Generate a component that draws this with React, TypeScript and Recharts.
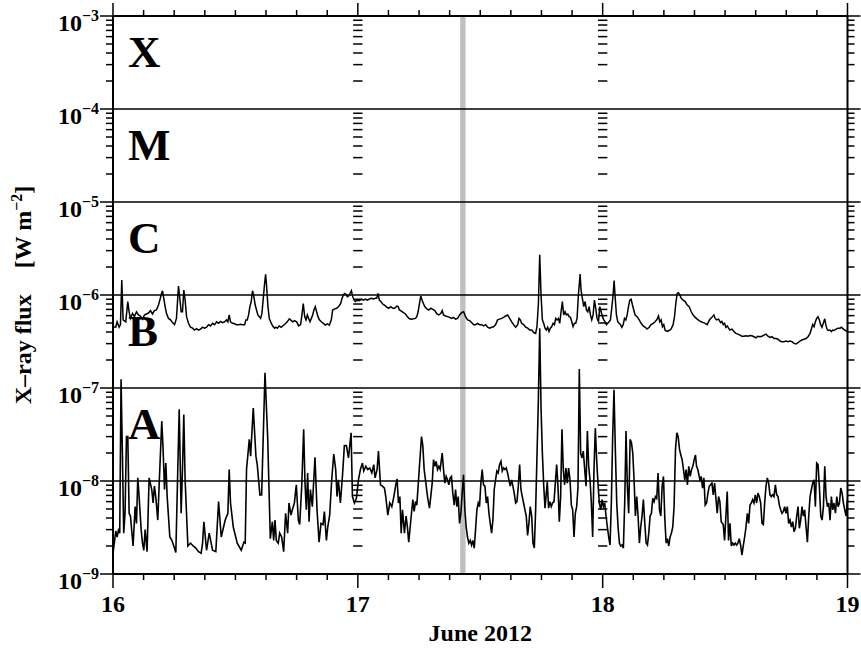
import React from "react";
import { LineChart, Line, XAxis, YAxis, ReferenceLine, ReferenceArea } from "recharts";

// GOES X-ray flux, 16-19 June 2012. x = hours since 16 June 00:00 UT, y = W m^-2

const hourTicks = [0, 3, 6, 9, 12, 15, 18, 21, 24, 27, 30, 33, 36, 39, 42, 45, 48, 51, 54, 57, 60, 63, 66, 69, 72];
const dayLabels = ["16", "17", "18", "19"];
const dayBoundaries = [24, 48];
const decades = [1e-9, 1e-8, 1e-7, 1e-6, 1e-5, 1e-4, 1e-3];
const minorSteps = [2, 3, 4, 5, 6, 7, 8, 9];
const flareClasses = [
  { name: "X", floor: 1e-4 },
  { name: "M", floor: 1e-5 },
  { name: "C", floor: 1e-6 },
  { name: "B", floor: 1e-7 },
  { name: "A", floor: 1e-8 },
];
const eventWindow = [34.03, 34.56];

// long channel (1-8 A)
const longDay16: [number, number][] = [
  [0.0, 4.56e-7], [0.27, 4.5e-7], [0.4, 5.15e-7], [0.6, 4.5e-7], [0.73, 4.8e-7], [0.86, 1.45e-6], [0.99, 5.4e-7],
  [1.25, 5.15e-7], [1.45, 8.5e-7], [1.58, 6.6e-7], [1.71, 5.6e-7], [1.91, 6.35e-7], [2.1, 5.85e-7], [2.3, 6.6e-7],
  [2.49, 6.1e-7], [2.69, 5.95e-7], [2.89, 5.5e-7], [3.08, 6.1e-7], [3.28, 6.25e-7], [3.48, 6.4e-7], [3.67, 6.8e-7],
  [3.87, 6.25e-7], [4.06, 6.8e-7], [4.26, 6.9e-7], [4.46, 7.8e-7], [4.59, 8.8e-7], [4.72, 1.0e-6], [4.85, 1.11e-6],
  [4.98, 9.2e-7], [5.11, 7.5e-7], [5.24, 6.35e-7], [5.44, 5.6e-7], [5.64, 5.4e-7], [5.83, 5.05e-7], [6.03, 4.8e-7],
  [6.22, 5.6e-7], [6.42, 1.25e-6], [6.55, 9.2e-7], [6.68, 6.6e-7], [6.81, 6.6e-7], [6.94, 1.13e-6], [7.07, 8.8e-7],
  [7.21, 5.85e-7], [7.4, 4.96e-7], [7.6, 4.5e-7], [7.8, 4.4e-7], [7.99, 4.2e-7], [8.19, 4.35e-7], [8.38, 4.2e-7],
  [8.58, 4.3e-7], [8.78, 4.5e-7], [8.97, 4.4e-7], [9.17, 4.5e-7], [9.37, 4.8e-7], [9.56, 4.65e-7], [9.76, 4.96e-7],
  [9.96, 4.8e-7], [10.15, 5.15e-7], [10.35, 4.96e-7], [10.54, 5.2e-7], [10.74, 5.05e-7], [10.94, 5.15e-7],
  [11.13, 5.4e-7], [11.26, 5.15e-7], [11.39, 6.1e-7], [11.52, 5.15e-7], [11.72, 4.96e-7], [11.91, 4.9e-7],
  [12.11, 4.8e-7], [12.31, 4.8e-7], [12.5, 4.85e-7], [12.7, 4.8e-7], [12.9, 4.8e-7], [13.03, 5.4e-7], [13.16, 5.4e-7],
  [13.29, 6.1e-7], [13.42, 7.5e-7], [13.55, 8.5e-7], [13.68, 1.11e-6], [13.81, 9.6e-7], [13.94, 7.8e-7],
  [14.07, 6.9e-7], [14.2, 6.1e-7], [14.34, 5.85e-7], [14.47, 5.6e-7], [14.6, 6.35e-7], [14.73, 9.2e-7],
  [14.86, 1.33e-6], [14.96, 1.67e-6], [15.06, 1.23e-6], [15.19, 7.5e-7], [15.32, 5.6e-7], [15.45, 5.15e-7],
  [15.58, 4.8e-7], [15.71, 4.56e-7], [15.84, 4.4e-7], [15.97, 4.5e-7], [16.1, 4.4e-7], [16.3, 4.65e-7],
  [16.49, 4.5e-7], [16.69, 4.7e-7], [16.89, 4.9e-7], [17.08, 5.15e-7], [17.28, 5.55e-7], [17.41, 5.4e-7],
  [17.61, 5.15e-7], [17.8, 5.3e-7], [18.0, 5.15e-7], [18.2, 4.65e-7], [18.39, 4.8e-7], [18.52, 6.1e-7],
  [18.65, 8.1e-7], [18.79, 5.85e-7], [18.92, 5.4e-7], [19.05, 6.1e-7], [19.18, 5.6e-7], [19.31, 5.15e-7],
  [19.44, 5.6e-7], [19.57, 6.1e-7], [19.7, 6.9e-7], [19.83, 7.5e-7], [19.96, 6.6e-7], [20.09, 5.85e-7],
  [20.23, 5.4e-7], [20.42, 5.15e-7], [20.62, 4.96e-7], [20.81, 4.75e-7], [21.01, 4.9e-7], [21.21, 4.75e-7],
  [21.4, 5.4e-7], [21.53, 6.9e-7], [21.73, 7.1e-7], [21.93, 7.2e-7], [22.12, 7.5e-7], [22.32, 8.1e-7],
  [22.45, 9.2e-7], [22.58, 1.0e-6], [22.71, 1.04e-6], [22.84, 1.02e-6], [22.97, 9.6e-7], [23.1, 9.75e-7],
  [23.24, 1.04e-6], [23.37, 1.11e-6], [23.5, 9.6e-7], [23.63, 8.8e-7], [23.76, 8.5e-7], [23.96, 8.8e-7],
];
const longDay17: [number, number][] = [
  [24.15, 8.7e-7], [24.35, 9.0e-7], [24.54, 8.8e-7], [24.74, 9.05e-7], [24.94, 8.8e-7], [25.13, 9.05e-7],
  [25.33, 9.2e-7], [25.53, 9.05e-7], [25.72, 9.2e-7], [25.85, 9.2e-7], [25.98, 1.04e-6], [26.11, 8.8e-7],
  [26.25, 8.5e-7], [26.44, 8.0e-7], [26.64, 7.75e-7], [26.83, 7.4e-7], [27.03, 7.2e-7], [27.23, 7.5e-7],
  [27.42, 7.2e-7], [27.62, 7.2e-7], [27.82, 7.6e-7], [27.95, 7.5e-7], [28.08, 6.9e-7], [28.27, 6.7e-7],
  [28.47, 6.45e-7], [28.67, 6.25e-7], [28.86, 5.85e-7], [29.06, 5.55e-7], [29.26, 5.5e-7], [29.45, 5.55e-7],
  [29.65, 5.6e-7], [29.78, 5.85e-7], [29.91, 6.6e-7], [30.04, 8.1e-7], [30.17, 9.75e-7], [30.3, 8.8e-7],
  [30.43, 8.1e-7], [30.56, 7.5e-7], [30.76, 7.1e-7], [30.96, 6.9e-7], [31.15, 7.2e-7], [31.35, 7.0e-7],
  [31.55, 6.8e-7], [31.75, 6.25e-7], [31.95, 6.1e-7], [32.14, 6.35e-7], [32.27, 6.8e-7], [32.4, 6.1e-7],
  [32.6, 5.95e-7], [32.8, 5.85e-7], [32.99, 5.75e-7], [33.19, 5.6e-7], [33.38, 5.75e-7], [33.58, 5.5e-7],
  [33.78, 5.6e-7], [33.97, 6.1e-7], [34.17, 6.45e-7], [34.37, 6.6e-7], [34.56, 5.85e-7], [34.76, 5.4e-7],
  [34.96, 5.3e-7], [35.15, 5.05e-7], [35.35, 4.8e-7], [35.54, 4.8e-7], [35.74, 4.96e-7], [35.94, 4.8e-7],
  [36.13, 4.8e-7], [36.33, 4.65e-7], [36.53, 4.8e-7], [36.72, 4.5e-7], [36.92, 4.4e-7], [37.12, 4.5e-7],
  [37.31, 4.56e-7], [37.51, 4.8e-7], [37.7, 5.4e-7], [37.9, 5.5e-7], [38.1, 5.6e-7], [38.29, 5.75e-7],
  [38.49, 5.95e-7], [38.69, 6.1e-7], [38.88, 5.6e-7], [39.08, 5.15e-7], [39.27, 4.8e-7], [39.47, 4.5e-7],
  [39.67, 4.8e-7], [39.8, 5.6e-7], [39.93, 5.4e-7], [40.06, 4.96e-7], [40.26, 4.8e-7], [40.45, 4.5e-7],
  [40.65, 4.4e-7], [40.85, 4.2e-7], [41.04, 4.2e-7], [41.24, 3.95e-7], [41.43, 3.87e-7], [41.56, 4.56e-7],
  [41.7, 8.1e-7], [41.83, 2.7e-6], [41.96, 1.0e-6], [42.09, 5.4e-7], [42.22, 4.96e-7], [42.35, 4.4e-7],
  [42.48, 4.2e-7], [42.61, 4.5e-7], [42.74, 4.05e-7], [42.87, 4.4e-7], [43.0, 4.56e-7], [43.14, 4.96e-7],
  [43.27, 4.8e-7], [43.4, 5.6e-7], [43.53, 5.4e-7], [43.66, 5.6e-7], [43.79, 4.96e-7], [43.92, 6.6e-7],
  [44.05, 8.5e-7], [44.18, 6.1e-7], [44.31, 6.6e-7], [44.44, 6.1e-7], [44.58, 6.25e-7], [44.71, 5.85e-7],
  [44.84, 5.75e-7], [44.97, 5.15e-7], [45.1, 4.56e-7], [45.23, 4.96e-7], [45.36, 4.96e-7], [45.49, 5.6e-7],
  [45.62, 1.0e-6], [45.79, 1.68e-6], [45.88, 1.13e-6], [46.01, 9.2e-7], [46.15, 7.5e-7], [46.28, 8.5e-7],
  [46.41, 6.9e-7], [46.54, 6.6e-7], [46.67, 7.5e-7], [46.8, 6.1e-7], [46.93, 5.4e-7], [47.06, 6.1e-7],
  [47.19, 8.8e-7], [47.32, 7.2e-7], [47.45, 5.6e-7], [47.59, 5.15e-7], [47.72, 7.5e-7], [47.85, 6.6e-7],
  [47.98, 5.85e-7],
];
const longDay18: [number, number][] = [
  [48.11, 5.4e-7], [48.24, 5.15e-7], [48.37, 4.8e-7], [48.5, 4.96e-7], [48.63, 5.15e-7], [48.76, 5.4e-7],
  [48.89, 7.2e-7], [49.02, 1.0e-6], [49.12, 1.43e-6], [49.22, 9.6e-7], [49.35, 6.1e-7], [49.48, 5.15e-7],
  [49.61, 4.96e-7], [49.75, 4.8e-7], [49.88, 4.5e-7], [50.01, 4.8e-7], [50.14, 5.6e-7], [50.27, 5.4e-7],
  [50.4, 6.1e-7], [50.53, 7.5e-7], [50.66, 8.8e-7], [50.79, 9.0e-7], [50.92, 7.8e-7], [51.05, 6.9e-7],
  [51.18, 6.1e-7], [51.38, 5.85e-7], [51.58, 5.4e-7], [51.77, 4.96e-7], [51.97, 4.65e-7], [52.17, 4.5e-7],
  [52.36, 4.3e-7], [52.56, 4.5e-7], [52.75, 4.8e-7], [52.95, 4.96e-7], [53.14, 5.15e-7], [53.34, 5.5e-7],
  [53.47, 5.95e-7], [53.6, 5.15e-7], [53.73, 5.4e-7], [53.86, 4.56e-7], [53.99, 4.8e-7], [54.13, 4.15e-7],
  [54.32, 4.05e-7], [54.52, 4.15e-7], [54.71, 4.3e-7], [54.91, 4.8e-7], [55.04, 5.85e-7], [55.17, 8.1e-7],
  [55.3, 1.04e-6], [55.43, 1.06e-6], [55.57, 1.0e-6], [55.7, 9.2e-7], [55.89, 8.8e-7], [56.09, 8.5e-7],
  [56.29, 7.8e-7], [56.48, 7.5e-7], [56.68, 6.6e-7], [56.87, 6.1e-7], [57.07, 5.75e-7], [57.27, 5.5e-7],
  [57.46, 5.3e-7], [57.66, 5.15e-7], [57.86, 5.05e-7], [58.05, 4.96e-7], [58.25, 4.8e-7], [58.38, 5.15e-7],
  [58.51, 5.5e-7], [58.71, 5.75e-7], [58.9, 6.1e-7], [59.03, 5.6e-7], [59.16, 5.4e-7], [59.36, 5.5e-7],
  [59.56, 5.05e-7], [59.69, 5.2e-7], [59.82, 4.8e-7], [59.95, 4.96e-7], [60.08, 4.5e-7], [60.21, 4.65e-7],
  [60.34, 4.4e-7], [60.47, 4.2e-7], [60.67, 4.3e-7], [60.87, 4.05e-7], [61.06, 3.87e-7], [61.26, 3.8e-7],
  [61.46, 3.7e-7], [61.65, 3.6e-7], [61.85, 3.6e-7], [62.04, 3.65e-7], [62.24, 3.6e-7], [62.44, 3.67e-7],
  [62.63, 3.65e-7], [62.83, 3.56e-7], [63.03, 3.47e-7], [63.22, 3.6e-7], [63.42, 3.56e-7], [63.61, 3.6e-7],
  [63.81, 3.7e-7], [64.01, 3.8e-7], [64.2, 3.6e-7], [64.4, 3.5e-7], [64.6, 3.56e-7], [64.79, 3.4e-7],
  [64.99, 3.4e-7], [65.19, 3.35e-7], [65.38, 3.2e-7], [65.58, 3.15e-7], [65.77, 3.15e-7], [65.97, 3.2e-7],
  [66.17, 3.15e-7], [66.36, 3.2e-7], [66.56, 3.15e-7], [66.76, 3.02e-7], [66.95, 2.97e-7], [67.15, 3.07e-7],
  [67.34, 3.2e-7], [67.54, 3.28e-7], [67.74, 3.35e-7], [67.93, 3.4e-7], [68.13, 3.56e-7], [68.33, 3.87e-7],
  [68.46, 4.3e-7], [68.59, 4.8e-7], [68.72, 4.56e-7], [68.85, 5.15e-7], [68.98, 5.6e-7], [69.11, 5.85e-7],
  [69.24, 5.4e-7], [69.37, 4.8e-7], [69.5, 4.5e-7], [69.63, 4.96e-7], [69.77, 5.55e-7], [69.9, 4.65e-7],
  [70.03, 4.2e-7], [70.16, 4.15e-7], [70.29, 4.2e-7], [70.42, 4.05e-7], [70.55, 4.2e-7], [70.68, 4.15e-7],
  [70.88, 4.3e-7], [71.07, 4.4e-7], [71.27, 4.4e-7], [71.4, 4.5e-7], [71.6, 4.3e-7], [71.8, 4.15e-7], [72.0, 4.05e-7],
];

// short channel (0.5-4 A)
const shortDay16: [number, number][] = [
  [0.0, 1.67e-9], [0.14, 2.2e-9], [0.27, 2.9e-9], [0.4, 2.5e-9], [0.53, 2.95e-9], [0.66, 2.75e-9], [0.79, 1.24e-7],
  [0.92, 2.0e-8], [1.05, 2.75e-9], [1.18, 4.5e-9], [1.32, 3.0e-8], [1.45, 3.0e-8], [1.58, 4.5e-9], [1.71, 4.2e-9],
  [1.97, 2.0e-9], [2.17, 5.3e-9], [2.3, 3.5e-9], [2.43, 1.08e-8], [2.56, 6.8e-9], [2.76, 3.0e-9], [2.89, 2.15e-9],
  [3.02, 1.8e-9], [3.15, 3.0e-9], [3.34, 1.74e-9], [3.54, 1.08e-8], [3.8, 8.1e-9], [3.93, 5.8e-9], [4.06, 8.8e-9],
  [4.19, 6.8e-9], [4.39, 3.8e-9], [4.52, 8.8e-9], [4.78, 4.4e-8], [4.91, 2.2e-8], [5.05, 8.1e-9], [5.18, 1.56e-8],
  [5.31, 6.8e-9], [5.57, 2.5e-9], [5.77, 2.3e-9], [5.96, 2.0e-9], [6.16, 1.7e-9], [6.35, 1.33e-8], [6.49, 5.9e-8],
  [6.68, 4.5e-9], [6.81, 1.33e-8], [6.94, 5.2e-8], [7.07, 1.03e-8], [7.34, 2.0e-9], [7.6, 2.15e-9], [7.86, 2.0e-9],
  [8.12, 1.9e-9], [8.38, 1.74e-9], [8.64, 1.67e-9], [8.78, 2.15e-9], [8.91, 3.65e-9], [9.17, 1.8e-9], [9.43, 2.75e-9],
  [9.76, 1.8e-9], [10.08, 1.74e-9], [10.35, 6.0e-9], [10.61, 2.5e-9], [11.0, 3.8e-9], [11.26, 4.5e-9],
  [11.39, 1.33e-8], [11.52, 5.8e-9], [11.79, 3.2e-9], [12.18, 2.15e-9], [12.57, 1.8e-9], [12.83, 2.2e-9],
  [12.96, 2.15e-9], [13.09, 1.33e-8], [13.36, 2.8e-8], [13.49, 1.85e-8], [13.75, 6.1e-8], [14.01, 1.85e-8],
  [14.14, 1.5e-8], [14.4, 7.1e-9], [14.57, 7.1e-9], [14.9, 1.46e-7], [15.16, 3.0e-8], [15.42, 2.4e-9],
  [15.62, 3.65e-9], [15.75, 2.3e-9], [15.88, 3.8e-9], [16.01, 2.3e-9], [16.2, 2.15e-9], [16.34, 2.75e-9],
  [16.53, 2.5e-9], [16.73, 1.74e-9], [16.92, 4.5e-9], [17.12, 2.75e-9], [17.25, 5.8e-9], [17.45, 4.3e-9],
  [17.58, 4.9e-9], [17.78, 5.8e-9], [17.97, 9.1e-9], [18.17, 3.8e-9], [18.3, 3.4e-9], [18.5, 8.8e-9],
  [18.69, 3.6e-8], [18.82, 9.5e-9], [18.95, 4.9e-9], [19.08, 1.22e-8], [19.22, 3.65e-9], [19.35, 8.1e-9],
  [19.54, 5.3e-9], [19.8, 1.8e-8], [20.0, 4.9e-9], [20.2, 2.2e-9], [20.39, 3.5e-9], [20.59, 3.4e-9],
  [20.72, 4.7e-9], [20.92, 2.3e-9], [21.05, 3.2e-9], [21.24, 4.3e-9], [21.44, 1.03e-8], [21.64, 1.95e-8],
  [21.83, 1.33e-8], [21.96, 6.8e-9], [22.09, 1.03e-8], [22.29, 5.8e-9], [22.49, 1.12e-8], [22.68, 2.4e-8],
  [22.88, 2.4e-8], [23.08, 1.77e-8], [23.34, 3.3e-8], [23.47, 6.8e-9], [23.67, 5.8e-9], [23.86, 6.5e-9],
];
const shortDay17: [number, number][] = [
  [24.06, 1.03e-8], [24.25, 1.33e-8], [24.45, 1.56e-8], [24.58, 1.28e-8], [24.78, 1.44e-8], [24.97, 1.33e-8],
  [25.17, 1.38e-8], [25.37, 1.22e-8], [25.56, 1.5e-8], [25.69, 1.08e-8], [25.89, 1.33e-8], [26.02, 2.1e-8],
  [26.22, 9.1e-9], [26.41, 8.8e-9], [26.61, 8.4e-9], [26.74, 6.8e-9], [26.94, 4.3e-9], [27.13, 5.8e-9],
  [27.33, 5.3e-9], [27.53, 6.8e-9], [27.72, 9.1e-9], [27.85, 1.05e-8], [27.98, 5.8e-9], [28.12, 6.8e-9],
  [28.25, 2.75e-9], [28.38, 4.9e-9], [28.57, 2.75e-9], [28.73, 4.2e-9], [28.86, 3.2e-9], [28.99, 2.2e-9],
  [29.13, 3.2e-9], [29.26, 4.5e-9], [29.39, 6.3e-9], [29.52, 4.7e-9], [29.65, 6.0e-9], [29.78, 5.5e-9],
  [29.91, 8.8e-9], [30.04, 1.44e-8], [30.24, 3.0e-8], [30.37, 2.4e-8], [30.5, 1.33e-8], [30.63, 1.03e-8],
  [30.83, 6.8e-9], [31.02, 5.1e-9], [31.15, 6.8e-9], [31.29, 9.5e-9], [31.42, 1.7e-8], [31.55, 1.44e-8],
  [31.68, 1.63e-8], [31.81, 1.33e-8], [31.94, 1.44e-8], [32.07, 1.33e-8], [32.27, 2.0e-8], [32.4, 1.33e-8],
  [32.53, 9.5e-9], [32.66, 1.12e-8], [32.79, 1.03e-8], [32.92, 9.1e-9], [33.05, 1.08e-8], [33.18, 1.12e-8],
  [33.31, 7.4e-9], [33.45, 5.5e-9], [33.58, 8.1e-9], [33.71, 5.3e-9], [33.84, 6.8e-9], [33.97, 3.5e-9],
  [34.1, 4.5e-9], [34.23, 7.4e-9], [34.36, 1.17e-8], [34.49, 4.9e-9], [34.62, 3.2e-9], [34.75, 2.5e-9],
  [34.88, 2.15e-9], [35.02, 2.3e-9], [35.15, 2.05e-9], [35.28, 2.3e-9], [35.41, 1.9e-9], [35.54, 3.0e-9],
  [35.67, 4.9e-9], [35.8, 5.8e-9], [35.93, 5.3e-9], [36.06, 9.5e-9], [36.19, 1.33e-8], [36.32, 9.1e-9],
  [36.46, 8.8e-9], [36.59, 5.8e-9], [36.72, 6.8e-9], [36.85, 4.5e-9], [36.98, 3.5e-9], [37.11, 2.75e-9],
  [37.24, 3.8e-9], [37.37, 8.1e-9], [37.5, 1.03e-8], [37.63, 1.28e-8], [37.76, 1.22e-8], [37.89, 1.5e-8],
  [38.03, 1.63e-8], [38.16, 1.28e-8], [38.29, 1.38e-8], [38.42, 1.33e-8], [38.55, 1.38e-8], [38.68, 1.22e-8],
  [38.81, 1.03e-8], [38.94, 8.8e-9], [39.07, 1.03e-8], [39.2, 8.8e-9], [39.33, 7.4e-9], [39.47, 5.8e-9],
  [39.6, 6.0e-9], [39.73, 8.8e-9], [39.86, 1.5e-8], [39.99, 8.1e-9], [40.12, 6.8e-9], [40.25, 5.8e-9],
  [40.38, 4.9e-9], [40.51, 4.2e-9], [40.64, 2.6e-9], [40.77, 3.5e-9], [40.9, 5.3e-9], [41.04, 4.2e-9],
  [41.17, 2.15e-9], [41.3, 1.9e-9], [41.43, 4.9e-9], [41.56, 1.85e-8], [41.69, 6.9e-8], [41.83, 4.4e-7],
  [41.96, 6.0e-8], [42.09, 2.0e-8], [42.22, 9.0e-9], [42.35, 5.1e-9], [42.57, 9.8e-9], [42.7, 5.1e-9],
  [42.83, 6.0e-9], [42.96, 5.3e-9], [43.09, 5.8e-9], [43.23, 6.0e-9], [43.36, 9.5e-9], [43.49, 1.5e-8],
  [43.62, 8.8e-9], [43.75, 3.65e-9], [43.88, 6.8e-9], [44.01, 3.6e-8], [44.14, 1.33e-8], [44.27, 9.1e-9],
  [44.4, 1.38e-8], [44.53, 9.5e-9], [44.66, 1.38e-8], [44.8, 1.03e-8], [44.93, 5.5e-9], [45.06, 4.9e-9],
  [45.19, 2.5e-9], [45.32, 4.5e-9], [45.45, 5.3e-9], [45.58, 8.5e-9], [45.71, 1.6e-7], [45.84, 2.0e-8],
  [45.97, 1.77e-8], [46.1, 2.1e-8], [46.24, 1.33e-8], [46.37, 8.8e-9], [46.5, 3.45e-8], [46.63, 1.44e-8],
  [46.76, 1.03e-8], [46.89, 5.8e-9], [47.02, 2.5e-9], [47.15, 1.33e-8], [47.28, 3.7e-8], [47.41, 1.7e-8],
  [47.54, 9.5e-9], [47.67, 5.8e-9], [47.81, 4.9e-9], [47.94, 6.3e-9],
];
const shortDay18: [number, number][] = [
  [48.07, 5.3e-9], [48.2, 5.8e-9], [48.33, 4.2e-9], [48.46, 3.2e-9], [48.59, 2.5e-9], [48.72, 2.05e-9],
  [48.85, 5.8e-9], [48.98, 3.0e-8], [49.11, 9.6e-8], [49.25, 2.0e-8], [49.38, 5.8e-9], [49.51, 3.2e-9],
  [49.64, 2.15e-9], [49.77, 2.0e-9], [49.9, 2.05e-9], [50.03, 1.9e-9], [50.16, 5.8e-9], [50.29, 3.45e-8],
  [50.42, 8.8e-9], [50.55, 4.5e-9], [50.69, 2.8e-8], [50.82, 2.6e-8], [50.95, 2.0e-8], [51.08, 1.03e-8],
  [51.21, 4.2e-9], [51.34, 6.8e-9], [51.47, 4.2e-9], [51.6, 2.15e-9], [51.73, 3.2e-9], [51.86, 4.2e-9],
  [51.99, 6.3e-9], [52.13, 3.5e-9], [52.26, 2.15e-9], [52.39, 2.05e-9], [52.52, 2.75e-9], [52.65, 4.2e-9],
  [52.78, 4.5e-9], [52.91, 6.5e-9], [53.04, 6.0e-9], [53.17, 6.8e-9], [53.3, 6.5e-9], [53.43, 1.22e-8],
  [53.57, 4.9e-9], [53.7, 4.2e-9], [53.83, 8.8e-9], [53.96, 1.12e-8], [54.09, 4.0e-9], [54.22, 2.15e-9],
  [54.35, 2.4e-9], [54.48, 2.0e-9], [54.61, 2.5e-9], [54.74, 2.75e-9], [54.87, 3.2e-9], [55.0, 5.3e-9],
  [55.14, 2.2e-8], [55.27, 3.3e-8], [55.4, 3.0e-8], [55.53, 2.2e-8], [55.66, 1.9e-8], [55.79, 1.7e-8],
  [55.92, 1.33e-8], [56.05, 1.03e-8], [56.18, 1.33e-8], [56.31, 9.1e-9], [56.44, 1.44e-8], [56.58, 1.12e-8],
  [56.71, 1.33e-8], [56.84, 1.44e-8], [56.97, 1.7e-8], [57.1, 1.9e-8], [57.2, 1.44e-8], [57.33, 1.33e-8],
  [57.53, 1.03e-8], [57.66, 1.12e-8], [57.79, 8.4e-9], [57.92, 1.08e-8], [58.05, 5.5e-9], [58.19, 5.8e-9],
  [58.32, 7.4e-9], [58.45, 8.8e-9], [58.58, 9.1e-9], [58.71, 9.5e-9], [58.84, 7.1e-9], [58.97, 9.5e-9],
  [59.1, 6.5e-9], [59.23, 4.5e-9], [59.36, 6.8e-9], [59.49, 6.0e-9], [59.62, 3.65e-9], [59.82, 3.4e-9],
  [59.95, 2.3e-9], [60.08, 4.2e-9], [60.21, 7.7e-9], [60.34, 2.3e-9], [60.48, 3.5e-9], [60.61, 2.0e-9],
  [60.74, 2.15e-9], [60.87, 2.05e-9], [61.0, 2.15e-9], [61.13, 2.05e-9], [61.26, 2.15e-9], [61.39, 2.4e-9],
  [61.52, 2.05e-9], [61.65, 1.6e-9], [61.78, 2.0e-9], [61.92, 2.5e-9], [62.05, 3.2e-9], [62.18, 4.5e-9],
  [62.31, 3.5e-9], [62.44, 5.5e-9], [62.57, 5.8e-9], [62.7, 6.3e-9], [62.83, 5.8e-9], [62.96, 7.1e-9],
  [63.09, 5.8e-9], [63.22, 7.4e-9], [63.35, 6.8e-9], [63.49, 5.8e-9], [63.62, 3.5e-9], [63.75, 3.4e-9],
  [63.88, 5.8e-9], [64.01, 8.8e-9], [64.14, 1.08e-8], [64.27, 9.5e-9], [64.4, 7.1e-9], [64.53, 6.8e-9],
  [64.66, 7.1e-9], [64.79, 6.8e-9], [64.93, 9.1e-9], [65.06, 7.1e-9], [65.19, 6.8e-9], [65.32, 5.5e-9],
  [65.45, 4.9e-9], [65.58, 4.5e-9], [65.71, 4.7e-9], [65.84, 5.3e-9], [65.97, 4.5e-9], [66.1, 5.3e-9],
  [66.23, 3.5e-9], [66.36, 3.8e-9], [66.5, 3.2e-9], [66.63, 3.65e-9], [66.76, 2.85e-9], [66.89, 3.1e-9],
  [67.02, 4.2e-9], [67.15, 5.3e-9], [67.28, 3.1e-9], [67.41, 3.8e-9], [67.54, 5.3e-9], [67.67, 4.2e-9],
  [67.8, 4.9e-9], [67.94, 3.2e-9], [68.07, 2.2e-9], [68.2, 4.2e-9], [68.33, 6.8e-9], [68.46, 8.1e-9],
  [68.59, 9.5e-9], [68.72, 1.03e-8], [68.85, 5.3e-9], [68.98, 1.56e-8], [69.11, 1.5e-8], [69.24, 8.8e-9],
  [69.38, 4.2e-9], [69.51, 3.8e-9], [69.64, 5.3e-9], [69.77, 1.44e-8], [69.9, 6.8e-9], [70.03, 5.3e-9],
  [70.16, 5.8e-9], [70.29, 3.8e-9], [70.42, 6.8e-9], [70.55, 4.9e-9], [70.68, 5.8e-9], [70.82, 4.5e-9],
  [70.95, 6.8e-9], [71.08, 5.3e-9], [71.21, 5.8e-9], [71.34, 8.4e-9], [71.47, 7.4e-9], [71.6, 5.8e-9],
  [71.73, 4.9e-9], [71.86, 4.2e-9], [71.99, 6.3e-9],
];

const toRows = (pts: [number, number][]) => pts.map(([h, f]) => ({ h, f }));
const longData = toRows([...longDay16, ...longDay17, ...longDay18]);
const shortData = toRows([...shortDay16, ...shortDay17, ...shortDay18]);

const minorTicks = decades.slice(0, -1).flatMap((d) => minorSteps.map((m) => m * d));
const yTicks = [...decades, ...minorTicks].sort((a, b) => a - b);
const isDecade = (v: number) => decades.some((d) => Math.abs(v / d - 1) < 1e-6);

const serif = '"Liberation Serif", "Times New Roman", serif';
const ink = "#000";
const labelStyle: React.CSSProperties = { fontFamily: serif, fontWeight: "bold", fontSize: 24, fill: ink };

function LeftTick(props: any) {
  const { x, y, payload } = props;
  const v = payload.value;
  const major = isDecade(v);
  const exp = Math.round(Math.log10(v));
  return (
    <g>
      <line x1={x} y1={y} x2={x - (major ? 13 : 7)} y2={y} stroke={ink} strokeWidth={1.5} />
      {major && (
        <text x={x - 14} y={y + 15} textAnchor="end" fill={ink} style={labelStyle}>
          10
          <tspan dy={-10} fontSize={16}>{`\u2212${-exp}`}</tspan>
        </text>
      )}
    </g>
  );
}

function RightTick(props: any) {
  const { x, y, payload } = props;
  const major = isDecade(payload.value);
  return <line x1={x} y1={y} x2={x + (major ? 13 : 7)} y2={y} stroke={ink} strokeWidth={1.5} />;
}

function BottomTick(props: any) {
  const { x, y, payload } = props;
  const h = payload.value;
  const major = h % 24 === 0;
  return (
    <g>
      <line x1={x} y1={y} x2={x} y2={y + (major ? 14 : 6)} stroke={ink} strokeWidth={1.5} />
      {major && (
        <text x={x} y={y + 38} textAnchor="middle" fill={ink} style={labelStyle}>
          {dayLabels[h / 24]}
        </text>
      )}
    </g>
  );
}

function TopTick(props: any) {
  const { x, y, payload } = props;
  const major = payload.value % 24 === 0;
  return <line x1={x} y1={y} x2={x} y2={y - (major ? 13 : 6)} stroke={ink} strokeWidth={1.5} />;
}

function YTitle(props: any) {
  const vb = props.viewBox && props.viewBox.height ? props.viewBox : { x: 112, y: 16, height: 558 };
  const cx = 31;
  const cy = vb.y + vb.height / 2;
  return (
    <text x={cx} y={cy} transform={`rotate(-90 ${cx} ${cy})`} textAnchor="middle" fill={ink} style={labelStyle}>
      {"X\u2013ray flux"}
      <tspan dx={26}>[W m</tspan>
      <tspan dy={-9} fontSize={16}>{"\u22122"}</tspan>
      <tspan dy={9}>]</tspan>
    </text>
  );
}

function XTitle(props: any) {
  const vb = props.viewBox && props.viewBox.width ? props.viewBox : { x: 113, y: 574, width: 735 };
  return (
    <text x={vb.x + vb.width / 2} y={641} textAnchor="middle" fill={ink} style={labelStyle}>
      June 2012
    </text>
  );
}

const classLabel = (name: string) => (props: any) => {
  const vb = props.viewBox;
  if (!vb) return null;
  return (
    <text x={vb.x + 15} y={vb.y - 42} fill={ink} style={{ ...labelStyle, fontSize: 45 }}>
      {name}
    </text>
  );
};

export default function App() {
  const axisLine = { stroke: ink, strokeWidth: 2 };
  return (
    <div style={{ position: "absolute", left: 0, top: 0, width: 861, height: 654, background: "#fff" }}>
      <LineChart width={861} height={654} margin={{ top: 15, right: 12.5, bottom: 79, left: 112 }}>
        <XAxis
          xAxisId="b"
          type="number"
          dataKey="h"
          domain={[0, 72]}
          allowDataOverflow
          ticks={hourTicks}
          interval={0}
          height={1}
          tickSize={0}
          tickMargin={0}
          tickLine={false}
          axisLine={axisLine}
          tick={<BottomTick />}
          label={{ content: <XTitle /> }}
        />
        <XAxis
          xAxisId="t"
          orientation="top"
          type="number"
          dataKey="h"
          domain={[0, 72]}
          allowDataOverflow
          ticks={hourTicks}
          interval={0}
          height={1}
          tickSize={0}
          tickMargin={0}
          tickLine={false}
          axisLine={axisLine}
          tick={<TopTick />}
        />
        <YAxis
          yAxisId="l"
          type="number"
          scale="log"
          domain={[1e-9, 1e-3]}
          allowDataOverflow
          ticks={yTicks}
          interval={0}
          width={1}
          tickSize={0}
          tickMargin={0}
          tickLine={false}
          axisLine={axisLine}
          tick={<LeftTick />}
          label={{ content: <YTitle /> }}
        />
        <YAxis
          yAxisId="r"
          orientation="right"
          type="number"
          scale="log"
          domain={[1e-9, 1e-3]}
          allowDataOverflow
          ticks={yTicks}
          interval={0}
          width={1}
          tickSize={0}
          tickMargin={0}
          tickLine={false}
          axisLine={axisLine}
          tick={<RightTick />}
        />

        <ReferenceArea
          xAxisId="b"
          yAxisId="l"
          x1={eventWindow[0]}
          x2={eventWindow[1]}
          y1={1e-9}
          y2={1e-3}
          fill="#c0c0c0"
          fillOpacity={1}
          stroke="none"
        />

        {flareClasses.map((c) => (
          <ReferenceLine
            key={c.name}
            xAxisId="b"
            yAxisId="l"
            y={c.floor}
            stroke={ink}
            strokeWidth={1.5}
            label={{ content: classLabel(c.name) }}
          />
        ))}

        {dayBoundaries.flatMap((h) =>
          minorTicks.map((v) => (
            <ReferenceLine
              key={`${h}-${v}`}
              xAxisId="b"
              yAxisId="l"
              segment={[
                { x: h - 0.46, y: v },
                { x: h + 0.46, y: v },
              ]}
              stroke={ink}
              strokeWidth={1.5}
            />
          ))
        )}

        <Line
          data={longData}
          dataKey="f"
          xAxisId="b"
          yAxisId="l"
          type="linear"
          stroke={ink}
          strokeWidth={1.5}
          dot={false}
          isAnimationActive={false}
        />
        <Line
          data={shortData}
          dataKey="f"
          xAxisId="b"
          yAxisId="l"
          type="linear"
          stroke={ink}
          strokeWidth={1.6}
          dot={false}
          isAnimationActive={false}
        />
      </LineChart>
    </div>
  );
}
